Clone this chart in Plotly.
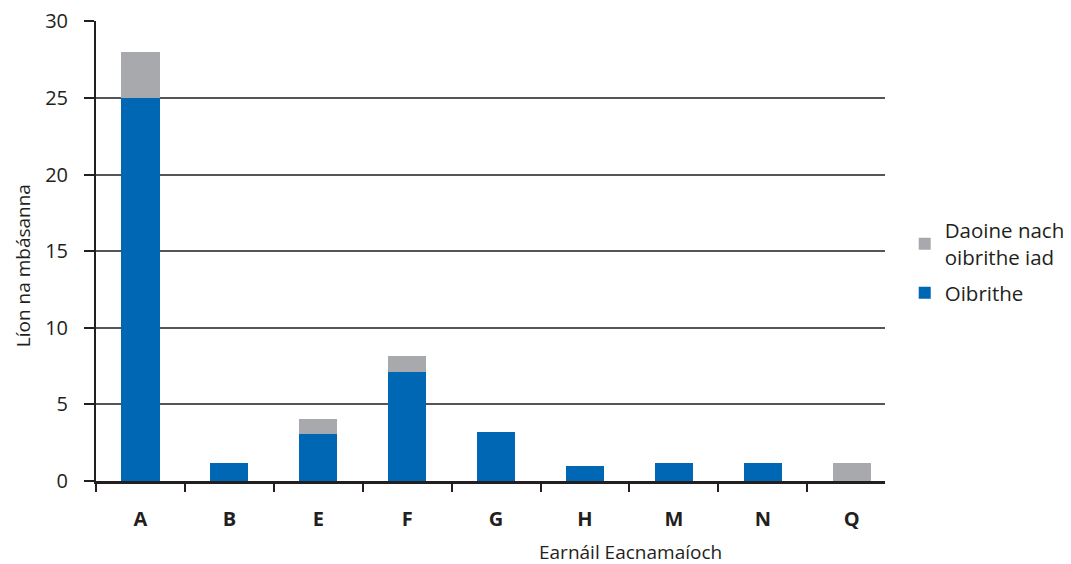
import plotly.graph_objects as go

categories = ["A", "B", "E", "F", "G", "H", "M", "N", "Q"]
oibrithe = [25, 1.2, 3.1, 7.1, 3.2, 1.0, 1.15, 1.15, 0]
daoine_nach = [3, 0, 0.95, 1.05, 0, 0, 0, 0, 1.2]
y_ticks = [0, 5, 10, 15, 20, 25, 30]

BLUE = "#0067b4"
GREY = "#a7a9ac"
FONT = "Open Sans"
fig = go.Figure()
fig.add_bar(x=categories, y=oibrithe, name="Oibrithe", marker_color=BLUE,
            marker_line_width=0, showlegend=False)
fig.add_bar(x=categories, y=daoine_nach, name="Daoine nach<br>oibrithe iad",
            marker_color=GREY, marker_line_width=0, showlegend=False)
# legend entries with larger square swatches
fig.add_scatter(x=[None], y=[None], mode="markers", name="Daoine nach<br>oibrithe iad",
                marker=dict(symbol="square", size=19, color=GREY), legendrank=1,
                legendgroup="g1")
fig.add_scatter(x=[None], y=[None], mode="markers", name="Oibrithe",
                marker=dict(symbol="square", size=19, color=BLUE), legendrank=2,
                legendgroup="g2")

# page body has an 8px margin: figure is 1063x556 placed at (8, 8)
fig.update_layout(
    barmode="stack",
    bargap=0.57,
    width=1063, height=556,
    margin=dict(l=88, r=186, t=13, b=83, autoexpand=False),
    plot_bgcolor="white", paper_bgcolor="white",
    font=dict(family=FONT, size=20, color="#231f20"),
    legend=dict(x=1.025, y=0.477, xanchor="left", yanchor="middle",
                traceorder="grouped", font=dict(size=20.5), itemsizing="constant",
                tracegroupgap=6, itemwidth=30),
    xaxis=dict(
        range=[-0.5, 8.375], automargin=False,
        tickson="boundaries", ticks="outside", ticklen=8, tickwidth=1.5, tickcolor="#231f20",
        showline=True, linecolor="#231f20", linewidth=3,
        tickfont=dict(family=FONT, size=20, weight="bold"),
        ticklabelstandoff=18,
        showgrid=False,
    ),
    yaxis=dict(
        range=[0, 30.02], tickvals=y_ticks, automargin=False,
        ticks="outside", ticklen=10, tickwidth=1.5, tickcolor="#231f20",
        showline=True, linecolor="#231f20", linewidth=2,
        gridcolor="#555555", gridwidth=1.5, zeroline=False,
        tickfont=dict(size=20), ticklabelstandoff=12, ticklabeloverflow="allow",
    ),
    annotations=[
        dict(text="Earnáil Eacnamaíoch", xref="paper", yref="paper", x=0.677, y=-0.155,
             xanchor="center", yanchor="middle", showarrow=False, font=dict(size=19)),
        dict(text="Líon na mbásanna", xref="paper", yref="paper", x=-0.0925, y=0.467,
             xanchor="center", yanchor="middle", textangle=-90, showarrow=False,
             font=dict(size=19)),
    ],
)
fig.write_html("out.html")
